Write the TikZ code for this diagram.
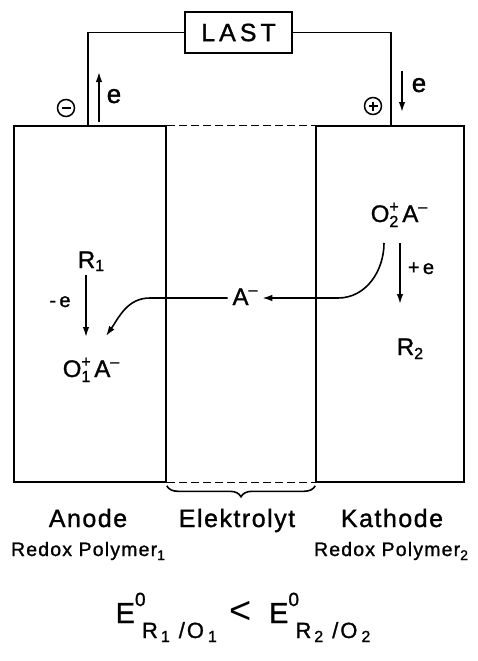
\documentclass[tikz,border=0pt]{standalone}
\usepackage{fontspec}
\setmainfont{Liberation Sans}[LetterSpace=6,FakeBold=1.2]
\newfontfamily\plainfont{Liberation Sans}
\usetikzlibrary{arrows.meta,decorations.pathreplacing}
\newcommand\fs[1]{\fontsize{#1}{#1}\selectfont}
\newcommand\lowr[3]{\raisebox{-#1}{\fs{#2}#3}}
\newcommand\uprs[3]{\raisebox{#1}{\fs{#2}#3}}
\newcommand\ionsub[2]{\rlap{\uprs{10pt}{16}{#1}}\lowr{5pt}{16}{#2}}
\newcommand\potsub[1]{\lowr{15pt}{22}{R\hspace{3pt}\lowr{4pt}{16}{#1}\hspace{9pt}/\hspace{2pt}O\hspace{4pt}\lowr{4pt}{16}{#1}}}
\begin{document}
\begin{tikzpicture}[x=1pt,y=-1pt, line width=1.6pt,
  arr/.style={-{Latex[length=10pt,width=6.5pt]}},
  lbl/.style={inner sep=0pt, anchor=base, font=\fs{24}},
  box/.style={draw, inner sep=0pt},
  sign/.style={circle, draw, minimum size=17pt, inner sep=0pt, line width=1.5pt},
  dsh/.style={dash pattern=on 8pt off 4pt, line width=1.3pt}
]
\useasboundingbox (0,0) rectangle (477,661);

% electrodes
\node[box, minimum width=152pt, minimum height=356pt] (anode) at (90,304) {};
\node[box, minimum width=148pt, minimum height=356pt] (cathode) at (390,304) {};
\draw[dsh] (anode.north east) -- (cathode.north west);
\draw[dsh] (anode.south east) -- (cathode.south west);
\draw[decorate, decoration={brace, mirror, amplitude=11pt}, line width=1.6pt]
  ([yshift=-3pt]anode.south east) -- ([yshift=-3pt]cathode.south west);

% load circuit
\node[box, minimum width=107pt, minimum height=41pt, font=\fs{25}\addfontfeature{LetterSpace=16}] (last) at (238.5,32.5) {LAST};
\coordinate (wl) at (88,126);
\coordinate (wr) at (391,126);
\draw (wl) |- (last.west);
\draw (wr) |- (last.east);

% signs
\node[sign] (minus) at (66,108) {};
\draw ([xshift=-4.5pt]minus.center) -- ([xshift=4.5pt]minus.center);
\node[sign] (plus) at (373,106) {};
\draw ([xshift=-4.5pt]plus.center) -- ([xshift=4.5pt]plus.center);
\draw ([yshift=-4.5pt]plus.center) -- ([yshift=4.5pt]plus.center);

% electron arrows at top
\coordinate (eu1) at (99,122);
\coordinate (eu2) at (99,72);
\draw[arr] (eu1) -- (eu2);
\node[lbl, font=\fs{26}] (e1) at (114,103) {e};
\coordinate (ed1) at (402,71);
\coordinate (ed2) at (402,112);
\draw[arr] (ed1) -- (ed2);
\node[lbl, font=\fs{26}] (e2) at (419,92) {e};

% anode species
\node[lbl] (r1) at (91,268) {R\lowr{3pt}{16}{1}};
\node[lbl] (o1) at (91,377) {O\ionsub{+}{1}\,A\uprs{10pt}{16}{–}};
\coordinate (a1s) at (86,275);
\coordinate (a1e) at (86,337);
\draw[arr] (a1s) -- (a1e);
\node[lbl, font=\fs{20}] (me) at (60,307) {-\,e};

% cathode species
\node[lbl] (o2) at (399,222) {O\ionsub{+}{2}\,A\uprs{10pt}{16}{–}};
\node[lbl] (r2) at (410,355) {R\lowr{4pt}{16}{2}};
\coordinate (a2s) at (400,243);
\coordinate (a2e) at (400,304);
\draw[arr] (a2s) -- (a2e);
\node[lbl, font=\fs{20}] (pe) at (421,274) {+\,e};

% anion migration
\node[lbl, inner xsep=4pt] (am) at (245,305) {A\uprs{10pt}{16}{–}};
\coordinate (hy) at (0,298);
\coordinate (c1) at (384,243);
\coordinate (c2) at (338,298);
\draw[arr] (c1) to[out=-90,in=0] (c2) -- (am.east |- hy);
\coordinate (k1) at (150,298);
\coordinate (k2) at (106,336);
\draw[arr] (am.west |- hy) -- (k1) to[out=180,in=55] (k2);

% labels below
\node[lbl, font=\fs{25}] (lan) at (88,527) {Anode};
\node[lbl, font=\fs{25}] (lel) at (237,527) {Elektrolyt};
\node[lbl, font=\fs{25}] (lka) at (392,527) {Kathode};
\node[lbl, font=\fs{19.5}] (rp1) at (88,556) {Redox Polymer\lowr{4pt}{14}{1}};
\node[lbl, font=\fs{19.5}] (rp2) at (391,556) {Redox Polymer\lowr{4pt}{14}{2}};

% potential relation
\node[lbl, font=\fs{29}] (eq) at (243,623)
 {E\rlap{\uprs{17pt}{19}{0}}\hspace{7pt}\potsub{1}%
  \hspace{13pt}{\plainfont\fs{38}<}\hspace{17pt}%
  E\rlap{\uprs{17pt}{19}{0}}\hspace{7pt}\potsub{2}};
\end{tikzpicture}
\end{document}
